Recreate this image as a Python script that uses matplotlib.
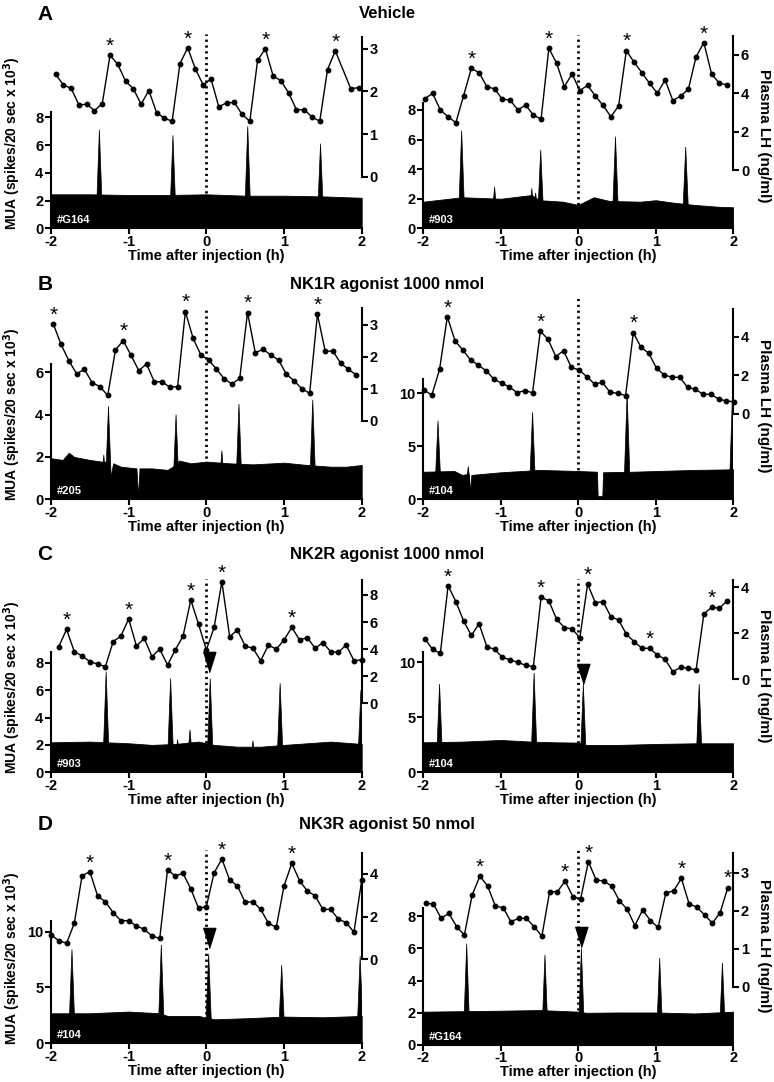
import numpy as np
import matplotlib
matplotlib.use('Agg')
from matplotlib import pyplot as plt

plt.rcParams['font.family'] = ['Liberation Sans', 'DejaVu Sans']
plt.rcParams['font.weight'] = 'bold'

W, H = 774, 1082

row_letters = ['A', 'B', 'C', 'D']
row_titles = ['Vehicle', 'NK1R agonist 1000 nmol', 'NK2R agonist 1000 nmol', 'NK3R agonist 50 nmol']
animal_ids = ['#G164', '#903', '#205', '#104', '#903', '#104', '#104', '#G164']

# plasma LH (ng/ml), one sample every 0.1 h starting at lh_t0
lh_t0 = [-1.94, -1.98, -1.97, -1.99, -1.90, -1.98, -2.00, -1.97]
lh_vals = [
    [2.40, 2.15, 2.07, 1.68, 1.70, 1.55, 1.71, 2.85, 2.63, 2.24, 2.06, 1.70, 2.02, 1.50, 1.37, 1.30,
     2.65, 3.02, 2.52, 2.15, 2.29, 1.64, 1.73, 1.74, 1.46, 1.30, 2.73, 3.00, 2.36, 2.25, 1.96, 1.57,
     1.57, 1.40, 1.30, 2.51, 2.95, np.nan, 2.06, 2.09],
    [3.72, 4.00, 3.13, 2.78, 2.47, 3.88, 5.30, 5.08, 4.35, 4.23, 3.69, 3.65, 3.13, 3.39, 2.87, 2.66,
     6.35, 5.57, 4.35, 5.01, 4.14, 4.42, 3.86, 3.37, 2.78, 3.34, 6.23, 5.62, 5.08, 4.52, 4.00, 4.70,
     3.62, 3.86, 4.21, 5.91, 6.64, 5.01, 4.52, 4.45],
    [3.03, 2.39, 1.88, 1.47, 1.61, 1.19, 1.07, 0.79, 2.22, 2.51, 2.05, 1.57, 1.78, 1.22, 1.22, 1.05,
     1.07, 3.42, 2.58, 2.06, 1.90, 1.62, 1.31, 1.15, 1.33, 3.39, 2.13, 2.24, 2.06, 1.90, 1.46, 1.25,
     1.00, 0.86, 3.34, 2.18, 2.18, 1.80, 1.61, 1.43],
    [1.24, 0.98, 2.31, 5.03, 3.78, 3.31, 2.79, 2.53, 2.24, 1.81, 1.59, 1.41, 1.10, 1.21, 1.10, 4.29,
     3.86, 2.97, 3.28, 2.41, 2.28, 1.93, 1.55, 1.64, 1.12, 1.07, 0.95, 4.21, 3.45, 3.14, 2.36, 2.02,
     1.90, 1.90, 1.38, 1.28, 1.02, 1.02, 0.78, 0.67, 0.64],
    [4.18, 5.46, 3.82, 3.50, 3.08, 2.90, 2.71, 4.55, 4.97, 6.23, 4.23, 4.80, 3.45, 4.01, 2.83, 3.94,
     4.97, 7.63, 5.83, 3.94, 5.61, 8.98, 4.92, 5.41, 4.23, 4.06, 3.15, 4.31, 3.99, 4.68, 5.61, 4.68,
     4.85, 4.06, 4.48, 3.82, 3.77, 4.31, 3.15, 3.20],
    [1.77, 1.30, 1.13, 4.07, 3.38, 2.54, 1.91, 2.41, 1.42, 1.30, 0.96, 0.84, 0.74, 0.61, 0.55, 3.57,
     3.41, 2.61, 2.25, 2.19, 1.81, 4.14, 3.33, 3.38, 2.72, 2.58, 1.96, 1.64, 1.35, 1.35, 1.06, 0.87,
     0.33, 0.52, 0.48, 0.41, 2.84, 3.13, 3.09, 3.41],
    [1.14, 0.88, 0.75, 1.69, 3.92, 4.11, 2.97, 2.70, 2.19, 1.81, 1.81, 1.56, 1.41, 1.09, 0.98, 4.19,
     3.91, 4.03, 3.30, 2.39, 2.47, 4.06, 4.70, 3.72, 3.44, 2.67, 2.70, 2.34, 1.69, 1.50, 3.44, 4.50,
     3.69, 3.20, 2.98, 2.34, 2.34, 1.88, 1.72, 1.27, 3.70],
    [2.19, 2.18, 1.80, 1.93, 1.58, 1.36, 2.41, 2.91, 2.65, 2.12, 2.08, 1.71, 1.80, 1.80, 1.58, 1.33,
     2.50, 2.50, 2.78, 2.37, 2.31, 3.29, 2.81, 2.78, 2.65, 2.26, 2.04, 1.61, 2.02, 1.74, 1.56, 2.47,
     2.52, 2.85, 2.18, 2.09, 1.89, 1.67, 1.95, 2.61],
]
# samples marked as LH pulse peaks (*)
lh_peaks = [
    [7, 17, 27, 36], [6, 16, 26, 36], [0, 9, 17, 25, 34], [3, 15, 27],
    [1, 9, 17, 21, 30], [3, 15, 21, 29, 37], [5, 15, 22, 31], [7, 18, 21, 33, 39],
]

# MUA baseline (time h, spikes/20 s x 10^3)
mua_base_t = [
    [-2, -1.5, -1.0, -0.5, 0, 0.5, 1.0, 1.5, 2.0],
    [-2, -1.5, -1.0, -0.6, -0.5, -0.2, 0, 0.2, 0.4, 0.8, 1.0, 1.2, 1.5, 1.8, 2.0],
    [-2, -1.85, -1.77, -1.7, -1.5, -1.35, -1.25, -1.24, -1.2, -1.1, -0.9, -0.885, -0.875, -0.86,
     -0.7, -0.5, -0.4, -0.35, -0.2, 0, 0.3, 0.6, 1.0, 1.3, 1.6, 1.8, 2.0],
    [-2, -1.6, -1.5, -1.415, -1.405, -1.395, -1.38, -1.0, -0.5, 0, 0.24, 0.25, 0.31, 0.32, 0.7,
     1.0, 1.5, 2.0],
    [-2, -1.5, -1.0, -0.7, -0.4, -0.1, 0.1, 0.4, 0.7, 1.0, 1.3, 1.6, 2.0],
    [-2, -1.5, -1.0, -0.6, -0.3, 0, 0.1, 0.5, 1.0, 1.5, 2.0],
    [-2, -1.5, -1.0, -0.6, -0.5, -0.1, 0.1, 0.5, 1.0, 1.5, 2.0],
    [-2, -1.0, -0.5, 0, 0.1, 0.5, 1.0, 1.5, 2.0],
]
mua_base_v = [
    [2.45, 2.45, 2.40, 2.40, 2.45, 2.35, 2.35, 2.30, 2.20],
    [1.80, 2.10, 2.00, 2.25, 1.90, 1.80, 1.58, 2.10, 1.85, 1.80, 1.90, 1.75, 1.58, 1.46, 1.42],
    [1.94, 1.86, 2.20, 2.00, 1.86, 1.78, 1.78, 0.95, 1.70, 1.54, 1.46, 0.44, 0.44, 1.46,
     1.46, 1.39, 1.62, 1.83, 1.70, 1.78, 1.70, 1.65, 1.73, 1.62, 1.54, 1.54, 1.62],
    [2.60, 2.67, 2.30, 2.40, 0.70, 0.70, 2.30, 2.55, 2.77, 2.67, 2.60, 0.30, 0.30, 2.55, 2.60,
     2.67, 2.77, 2.83],
    [2.19, 2.24, 2.12, 2.00, 2.07, 2.24, 2.00, 1.87, 1.87, 2.00, 2.12, 2.24, 2.07],
    [2.72, 2.78, 2.93, 2.78, 2.72, 2.69, 2.48, 2.48, 2.57, 2.63, 2.63],
    [2.69, 2.69, 2.84, 2.69, 2.45, 2.45, 2.15, 2.24, 2.39, 2.33, 2.45],
    [2.07, 2.13, 2.17, 2.07, 2.00, 2.02, 2.02, 1.96, 2.07],
]
# MUA volleys: (time h, peak height)
mua_spikes = [
    [(-1.377, 7.1), (-0.43, 6.7), (0.533, 7.35), (1.47, 6.1)],
    [(-1.505, 6.6), (-1.08, 2.8), (-0.6, 2.7), (-0.55, 2.4), (-0.485, 5.3), (0.48, 6.2), (1.386, 5.5)],
    [(-1.32, 2.1), (-1.26, 4.4), (-0.39, 4.0), (0.2, 2.3), (0.42, 4.5), (1.37, 4.7)],
    [(-1.81, 7.4), (-1.42, 3.1), (-0.59, 8.2), (0.63, 10.0), (1.99, 10.0)],
    [(-1.29, 7.35), (-0.46, 6.85), (-0.37, 2.4), (-0.21, 3.1), (0.05, 6.85), (0.6, 2.3), (0.95, 6.5), (1.99, 6.0)],
    [(-1.79, 8.0), (-0.57, 9.0), (0.065, 8.0), (1.56, 8.0)],
    [(-1.73, 8.4), (-0.58, 8.8), (0.03, 8.0), (0.97, 7.0), (1.98, 7.8)],
    [(-1.44, 6.3), (-0.43, 5.6), (0.04, 6.0), (1.05, 5.4), (1.86, 5.1)],
]
# injection arrowhead (time, MUA level); none for rows A and B
inj_mark = [None, None, None, None, (0.04, 8.07), (0.065, 8.93), (0.03, 9.4), (0.04, 6.69)]

# ---- layout in pixels (measured on the original figure) ----
col_x = [(51, 361.7), (423.3, 733.3)]
row_top = [0, 270, 540, 810]
ax_top = [34, 35, 37, 27, 39, 39, 40, 40]          # top of the dotted line, from row top
mua0 = [228.3, 228.3, 499.3, 499.3, 772.3, 772.3, 1043.3, 1045]
mua_ppu = [13.875, 14.79, 21.17, 10.6, 13.7, 11.03, 11.17, 16.1]
mua_top = [8.4, 8.5, 6.38, 11.35, 8.8, 10.9, 10.95, 8.5]
mua_ticks = [[0, 2, 4, 6, 8], [0, 2, 4, 6, 8], [0, 2, 4, 6], [0, 5, 10],
             [0, 2, 4, 6, 8], [0, 5, 10], [0, 5, 10], [0, 2, 4, 6, 8]]
lh0 = [176.7, 170, 420.7, 414, 703.3, 679.3, 959.3, 986.7]
lh_ppu = [42.67, 19.17, 31.9, 19.33, 13.54, 23.0, 21.33, 38.0]
lh_top = [3.28, 7.0, 3.52, 5.43, 9.1, 4.3, 5.0, 3.53]
lh_ticks = [[0, 1, 2, 3], [0, 2, 4, 6], [0, 1, 2, 3], [0, 2, 4],
            [0, 2, 4, 6, 8], [0, 2, 4], [0, 2, 4], [0, 1, 2, 3]]

fig = plt.figure(figsize=(W / 100, H / 100), dpi=100)

spine_w = 1.5
tri = [(-0.63, 1), (0.63, 1), (0, -1)]

for i in range(8):
    row, col = divmod(i, 2)
    x0, x1 = col_x[col]
    top = row_top[row] + ax_top[i]
    ax = fig.add_axes([x0 / W, 1 - mua0[i] / H, (x1 - x0) / W, (mua0[i] - top) / H])
    ax.set_xlim(-2, 2)
    ax.set_ylim(0, (mua0[i] - top) / mua_ppu[i])
    ax.patch.set_visible(False)

    # injection time
    ax.plot([0, 0], [0, ax.get_ylim()[1]], color='black', lw=2.0, ls=(0, (0.8, 1.3)), zorder=1)

    # MUA trace
    ax.fill_between(mua_base_t[i], 0, mua_base_v[i], color='black', lw=0.6, zorder=2)
    for ts, hs in mua_spikes[i]:
        ax.fill([ts - 0.045, ts, ts + 0.045], [0, hs, 0], color='black', lw=0.5, zorder=2)

    if inj_mark[i] is not None:
        ax.plot(inj_mark[i][0], inj_mark[i][1], marker=tri, ms=14.5, color='black', zorder=5)

    ax.annotate(animal_ids[i], xy=(-2, 0), xytext=(4, 2.5), textcoords='offset points',
                color='white', fontsize=8, fontweight='bold', ha='left', va='bottom', zorder=6)

    for s in ['top', 'right']:
        ax.spines[s].set_visible(False)
    ax.spines['left'].set_bounds(0, mua_top[i])
    ax.spines['left'].set_linewidth(spine_w)
    ax.spines['bottom'].set_linewidth(spine_w)
    ax.set_yticks(mua_ticks[i])
    ax.set_xticks([-2, -1, 0, 1, 2])
    ax.set_xticklabels(['-2', '-1', '0', '1', '2'])
    ax.tick_params(axis='both', length=4, width=spine_w, labelsize=10.5, pad=1.5)
    ax.tick_params(axis='x', pad=0.5)
    ax.set_xlabel('Time after injection (h)', fontsize=10.5, fontweight='bold', labelpad=0)

    # plasma LH
    ax2 = ax.twinx()
    ax2.set_ylim(-(mua0[i] - lh0[i]) / lh_ppu[i], (lh0[i] - top) / lh_ppu[i])
    v = np.array(lh_vals[i])
    t = lh_t0[i] + 0.1 * np.arange(len(v))
    ok = ~np.isnan(v)
    ax2.plot(t[ok], v[ok], color='black', lw=1.0, marker='o', ms=3.2, zorder=4, clip_on=False)
    for k in lh_peaks[i]:
        ax2.annotate('*', xy=(t[k], v[k]), xytext=(0, -0.5), textcoords='offset points',
                     ha='center', va='bottom', fontsize=15, fontweight='normal', annotation_clip=False)
    for s in ['top', 'left', 'bottom']:
        ax2.spines[s].set_visible(False)
    ax2.spines['right'].set_bounds(0, lh_top[i])
    ax2.spines['right'].set_linewidth(spine_w)
    ax2.set_yticks(lh_ticks[i])
    ax2.tick_params(axis='y', length=4, width=spine_w, labelsize=10.5, pad=1.5)

    if col == 0:
        fig.text(12 / W, 1 - (mua0[i] + 2) / H, 'MUA (spikes/20 sec x 10$^\\mathbf{3}$)', rotation=90,
                 ha='center', va='bottom', fontsize=10, fontweight='bold')
    else:
        fig.text(764 / W, 1 - (row_top[row] + 136) / H, 'Plasma LH (ng/ml)', rotation=270,
                 ha='center', va='center', fontsize=11, fontweight='bold')

for r in range(4):
    y = row_top[r] + 14
    fig.text(45 / W, 1 - y / H, row_letters[r], fontsize=15, fontweight='bold', ha='center', va='center')
    fig.text(387 / W, 1 - y / H, row_titles[r], fontsize=12, fontweight='bold', ha='center', va='center')

fig.savefig('out.png', dpi=100)
